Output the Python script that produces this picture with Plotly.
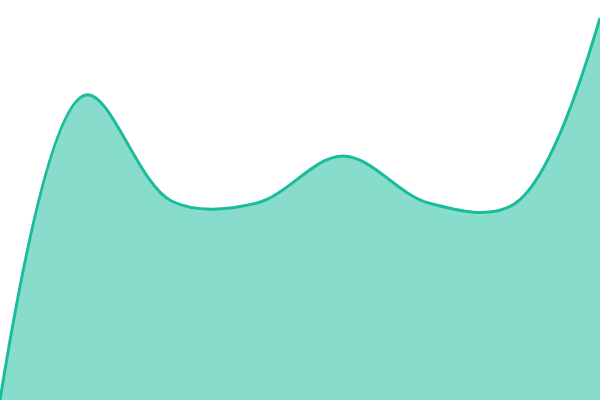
import plotly.graph_objects as go

# puntos de la curva (indices equiespaciados)
x_vals = [0, 1, 2, 3, 4, 5, 6, 7]
y_vals = [0, 305, 199, 197, 244, 197, 196, 382]

fig = go.Figure()
fig.add_trace(go.Scatter(
    x=x_vals, y=y_vals,
    mode='lines',
    line=dict(color='#1abc9c', width=3, shape='spline', smoothing=1),
    fill='tozeroy',
    fillcolor='rgba(26,188,156,0.52)',
    hoverinfo='skip',
))

fig.update_layout(
    width=600, height=400,
    margin=dict(l=0, r=0, t=0, b=0),
    paper_bgcolor='white', plot_bgcolor='white',
    showlegend=False,
    xaxis=dict(visible=False, range=[0, 7], fixedrange=True),
    yaxis=dict(visible=False, range=[0, 400], fixedrange=True),
)

# quitar el margen del body para que el grafico ocupe toda la ventana
fig.write_html("out.html", config={'displayModeBar': False},
               post_script="document.body.style.margin='0';")
